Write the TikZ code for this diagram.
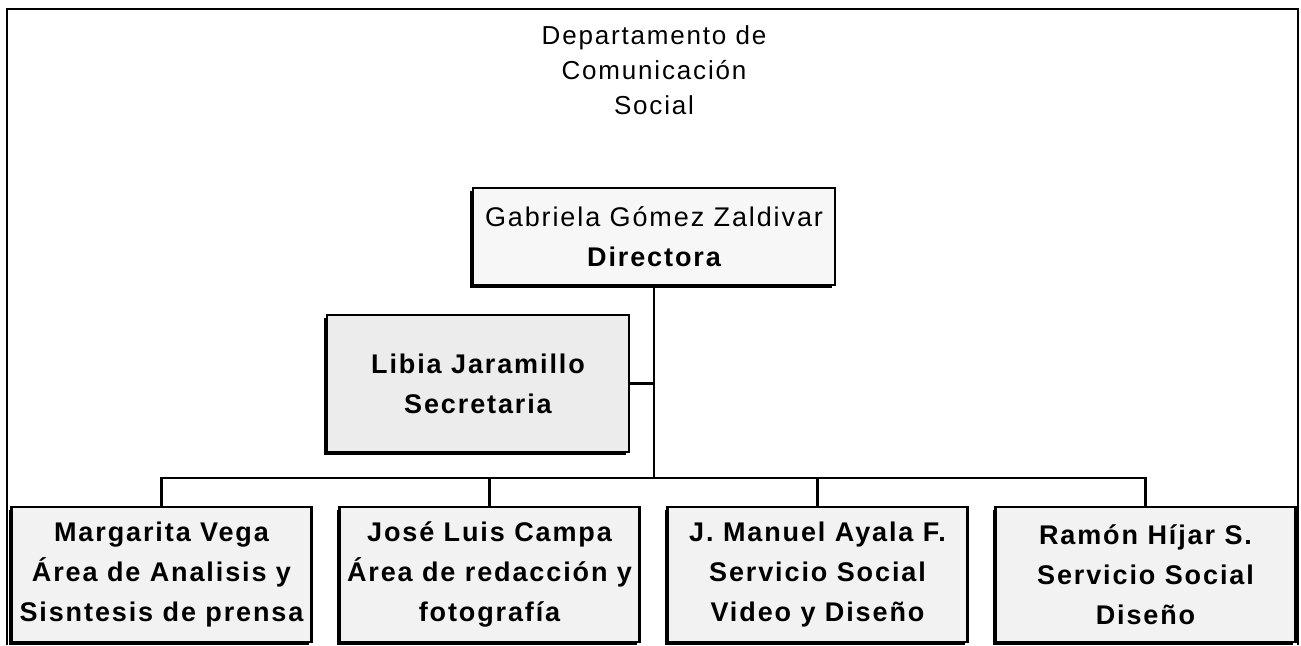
\documentclass[tikz,border=0pt]{standalone}
\usepackage{fontspec}
\setmainfont{Liberation Sans}[LetterSpace=7]
\usetikzlibrary{arrows,shadows,positioning}

\begin{document}
\begin{tikzpicture}[x=0.5pt,y=-0.5pt,node distance=164pt,line width=1.4pt]
        \tikzstyle{cargo} = [draw, fill=gray!10, rectangle, inner sep=2pt, minimum width=150pt, minimum height=67.5pt, align=center, font=\fontsize{13.5}{20}\selectfont\bfseries, drop shadow={shadow xshift=-1.4pt, shadow yshift=-1.4pt, fill=black, opacity=1}]

        \useasboundingbox (0,0) rectangle (1301,645);
        \draw (7,645) -- (7,9) -- (1298,9) -- (1298,645);

        \node [align=center, font=\fontsize{13}{17.5}\selectfont] (titulo) at (654,70) {Departamento de\\Comunicación\\Social};
        \node [cargo, minimum width=181pt, minimum height=48.5pt, fill=gray!6] (directora) at (654,236.5) {{\mdseries Gabriela Gómez Zaldivar}\\Directora};
        \node [cargo, minimum width=151pt, minimum height=68.5pt, fill=gray!15] (secretaria) at (478,383.5) {Libia Jaramillo\\Secretaria};

        \node [cargo] (analisis) at (161.5,574.5) {Margarita Vega\\Área de Analisis y\\Sisntesis de prensa};
        \node [cargo, right of=analisis] (redaccion) {José Luis Campa\\Área de redacción y\\fotografía};
        \node [cargo, right of=redaccion] (video) {J. Manuel Ayala F.\\Servicio Social\\Video y Diseño};
        \node [cargo, right of=video] (diseno) {Ramón Híjar S.\\Servicio Social\\Diseño};

        \coordinate (bus) at (654,478);

        \draw (directora) -- (bus);
        \draw (secretaria.east) -- (secretaria.east -| bus);
        \draw (analisis.north) |- (bus) -| (diseno.north);
        \draw (redaccion.north) -- (redaccion.north |- bus);
        \draw (video.north) -- (video.north |- bus);
    \end{tikzpicture}
\end{document}
